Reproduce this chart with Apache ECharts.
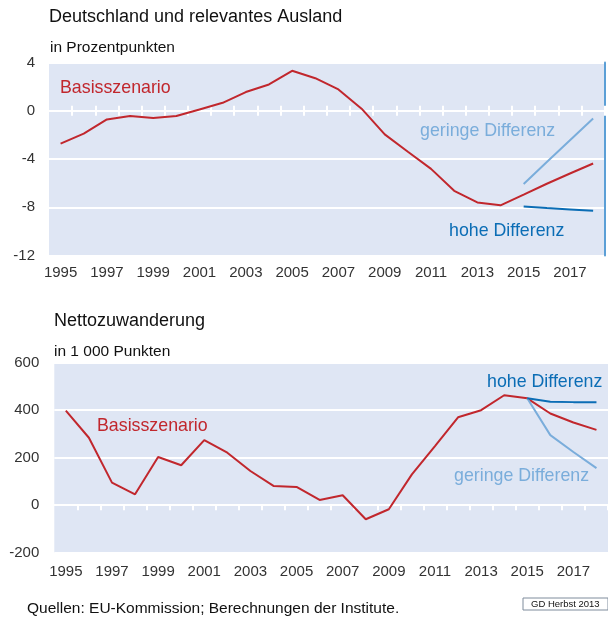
<!DOCTYPE html>
<html lang="de">
<head>
    <meta charset="utf-8">
    <title>Deutschland und relevantes Ausland / Nettozuwanderung</title>
    <script src="https://cdn.jsdelivr.net/npm/echarts@6/dist/echarts.min.js"></script>
    <style>
        html, body { margin: 0; padding: 0; background: #fff; }
    </style>
</head>
<body>
<div id="main" style="width: 608px;height:618px;"></div>
<script type="text/javascript">
    var years = ['1995', '1996', '1997', '1998', '1999', '2000', '2001', '2002', '2003', '2004', '2005', '2006',
        '2007', '2008', '2009', '2010', '2011', '2012', '2013', '2014', '2015', '2016', '2017', '2018'];
    var scenarioYears = ['2015', '2016', '2017', '2018'];

    // oben: in Prozentpunkten
    var topBasis = [-2.72, -1.9, -0.72, -0.44, -0.61, -0.44, 0.11, 0.66, 1.55, 2.18, 3.31, 2.7,
        1.77, 0.17, -1.96, -3.4, -4.82, -6.64, -7.6, -7.84, -6.95, -6.05, -5.2, -4.37];
    var topGering = [-6.08, -4.25, -2.45, -0.64];
    var topHoch = [-7.93, -8.07, -8.18, -8.29];
    var topTicks = [-12, -8, -4, 0, 4];

    // unten: in 1 000 Personen
    var botBasis = [398, 284, 95, 46, 203, 168, 274, 221, 144, 81, 77, 22,
        42, -59, -17, 130, 249, 370, 400, 463, 450, 386, 348, 317];
    var botGering = [450, 295, 224, 156];
    var botHoch = [450, 436, 434, 434];
    var botTicks = [-200, 0, 200, 400, 600];

    var RED = '#c1272d', LIGHT = '#7aaddb', DARK = '#0b6db5';
    var FONT = 'Liberation Sans, Arial, sans-serif';

    function pad(vals) {
        var out = years.map(function () { return null; });
        scenarioYears.forEach(function (y, i) { out[years.indexOf(y)] = vals[i]; });
        return out;
    }

    var myChart = echarts.init(document.getElementById('main'));

    function labelAxis(g, margin) {
        return {
            type: 'category', gridIndex: g, data: years, boundaryGap: true,
            axisLine: { show: false, onZero: false }, axisTick: { show: false },
            axisLabel: { interval: 1, margin: margin, color: '#333', fontSize: 15, fontFamily: FONT }
        };
    }
    function tickAxis(g, inside) {
        return {
            type: 'category', gridIndex: g, data: years, boundaryGap: true,
            axisLine: { show: true, onZero: true, lineStyle: { color: '#fff', width: 2 } },
            axisTick: {
                show: true, inside: inside, length: 5,
                interval: function (i) { return i !== 0; },
                lineStyle: { color: '#fff', width: 2 }
            },
            axisLabel: { show: false }
        };
    }
    function valAxis(g, ticks, margin) {
        return {
            type: 'value', gridIndex: g, min: ticks[0], max: ticks[ticks.length - 1],
            interval: ticks[1] - ticks[0],
            axisLine: { show: false }, axisTick: { show: false },
            axisLabel: { margin: margin, color: '#333', fontSize: 15, fontFamily: FONT },
            splitLine: { lineStyle: { color: '#fff', width: 2 } }
        };
    }
    function line(x, y, data, color, z) {
        return {
            type: 'line', xAxisIndex: x, yAxisIndex: y, data: data, symbol: 'none',
            connectNulls: false, animation: false, z: z || 3,
            lineStyle: { color: color, width: 2 }
        };
    }
    function txt(x, y, text, color, size) {
        return {
            type: 'text', left: x, top: y, z: 10,
            style: { text: text, fill: color, fontSize: size, fontFamily: FONT }
        };
    }

    var option = {
        backgroundColor: '#fff',
        animation: false,
        grid: [
            { left: 49, top: 62.5, width: 555.7, height: 193, show: true, backgroundColor: '#dfe6f4', borderWidth: 0 },
            { left: 54.3, top: 362.7, width: 557, height: 190, show: true, backgroundColor: '#dfe6f4', borderWidth: 0 }
        ],
        xAxis: [
            labelAxis(0, 10), tickAxis(0, true), tickAxis(0, false),
            labelAxis(1, 12), tickAxis(1, true), tickAxis(1, false)
        ],
        yAxis: [
            valAxis(0, topTicks, 14),
            {
                type: 'value', gridIndex: 0, position: 'right', min: topTicks[0], max: topTicks[topTicks.length - 1],
                axisLine: { show: true, lineStyle: { color: '#5b9fd6', width: 2 } },
                axisTick: { show: false }, axisLabel: { show: false }, splitLine: { show: false }
            },
            valAxis(1, botTicks, 15)
        ],
        series: [
            line(0, 0, topBasis, RED),
            line(0, 0, pad(topGering), LIGHT),
            line(0, 0, pad(topHoch), DARK),
            line(3, 2, botBasis, RED),
            line(3, 2, pad(botGering), LIGHT, 4),
            line(3, 2, pad(botHoch), DARK, 5)
        ],
        graphic: [
            txt(49, 8, 'Deutschland und relevantes Ausland', '#111', 18),
            txt(50, 40, 'in Prozentpunkten', '#111', 15.5),
            txt(54, 312, 'Nettozuwanderung', '#111', 18),
            txt(54, 344, 'in 1 000 Punkten', '#111', 15.5),
            txt(60, 79, 'Basisszenario', RED, 17.8),
            txt(420, 122, 'geringe Differenz', LIGHT, 17.8),
            txt(449, 222, 'hohe Differenz', DARK, 17.8),
            txt(97, 417, 'Basisszenario', RED, 17.8),
            txt(487, 373, 'hohe Differenz', DARK, 17.8),
            txt(454, 467, 'geringe Differenz', LIGHT, 17.8),
            txt(27, 601, 'Quellen: EU-Kommission; Berechnungen der Institute.', '#111', 15.5),
            {
                type: 'rect', left: 522.5, top: 597.5, z: 10, shape: { width: 85, height: 12 },
                style: { fill: '#fff', stroke: '#7f8c9c', lineWidth: 1 }
            },
            txt(531, 599, 'GD Herbst 2013', '#111', 9.5)
        ]
    };
    myChart.setOption(option);
</script>
</body>
</html>
